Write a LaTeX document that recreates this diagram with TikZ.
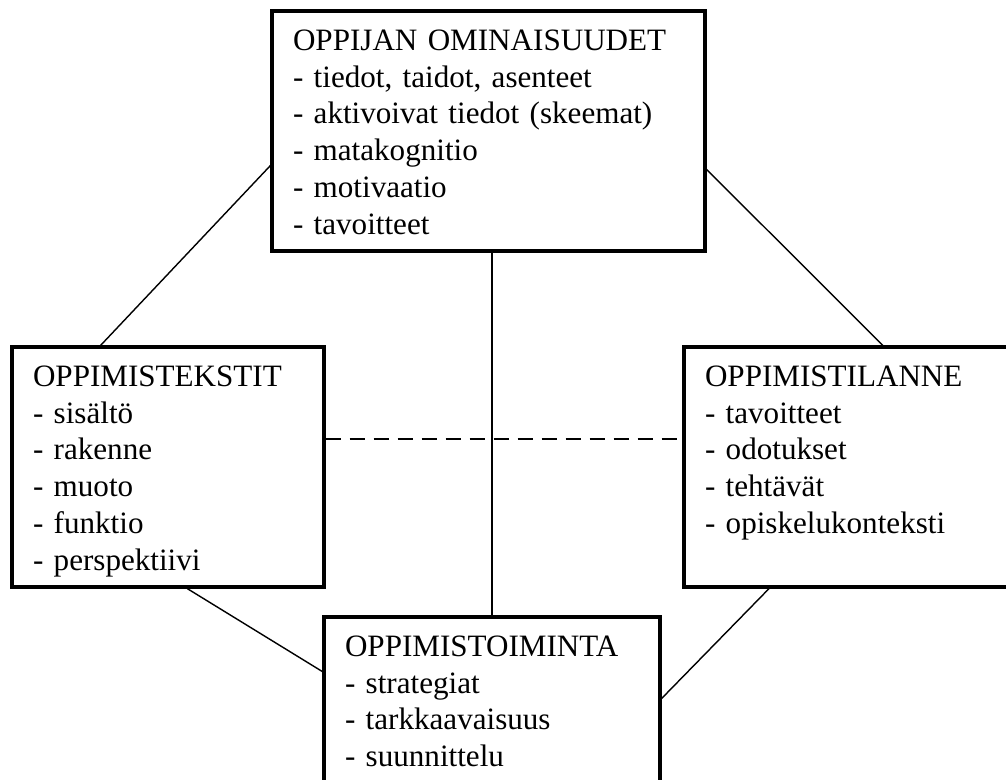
\documentclass[tikz,border=0pt]{standalone}
\usepackage{fontspec}
\setmainfont{Liberation Serif}
\usepackage{tikz}

\begin{document}
\begin{tikzpicture}[
    box/.style={draw, line width=1.8pt, align=left, inner xsep=0.42cm, inner ysep=0pt,
      text height=0.79cm, font=\fontsize{17.7}{20.9}\selectfont},
    viiva/.style={line width=0.8pt}]
  \useasboundingbox (0,0) rectangle (20.12,-15.6);

  \node [box, text width=7.82cm, text depth=4.01cm] (1) at (9.77,-2.62)
    {OPPIJAN OMINAISUUDET\\ - tiedot, taidot, asenteet\\ - aktivoivat tiedot (skeemat)\\
     - matakognitio\\ - motivaatio\\ - tavoitteet};
  \node [box, below of=1, xshift=-6.41cm, yshift=-5.72cm, text width=5.4cm, text depth=4.01cm] (2)
    {OPPIMISTEKSTIT\\ - sisältö\\ - rakenne\\ - muoto\\ - funktio\\ - perspektiivi};
  \node [box, below of=1, xshift=7.19cm, yshift=-5.72cm, text width=5.72cm, text depth=4.01cm] (3)
    {OPPIMISTILANNE\\ - tavoitteet\\ - odotukset\\ - tehtävät\\ - opiskelukonteksti};
  \node [box, below of=1, xshift=0.07cm, yshift=-10.41cm, text width=5.88cm, text depth=2.59cm] (4)
    {OPPIMISTOIMINTA\\ - strategiat\\ - tarkkaavaisuus\\ - suunnittelu};

  \draw [viiva] (1.189.4) -- (2.119.5);
  \draw [viiva] (1.350.6) -- (3.74.2);
  \draw [viiva] (4) -- (4 |- 1.south);
  \draw [viiva, line width=1.1pt, dash pattern=on 0.3cm off 0.18cm] (2.10.9) -- (2.10.9 -| 3.west);
  \draw [viiva] (2.279.5) -- (4.170.4);
  \draw [viiva] (3.237) -- (4.1.9);
\end{tikzpicture}
\end{document}
